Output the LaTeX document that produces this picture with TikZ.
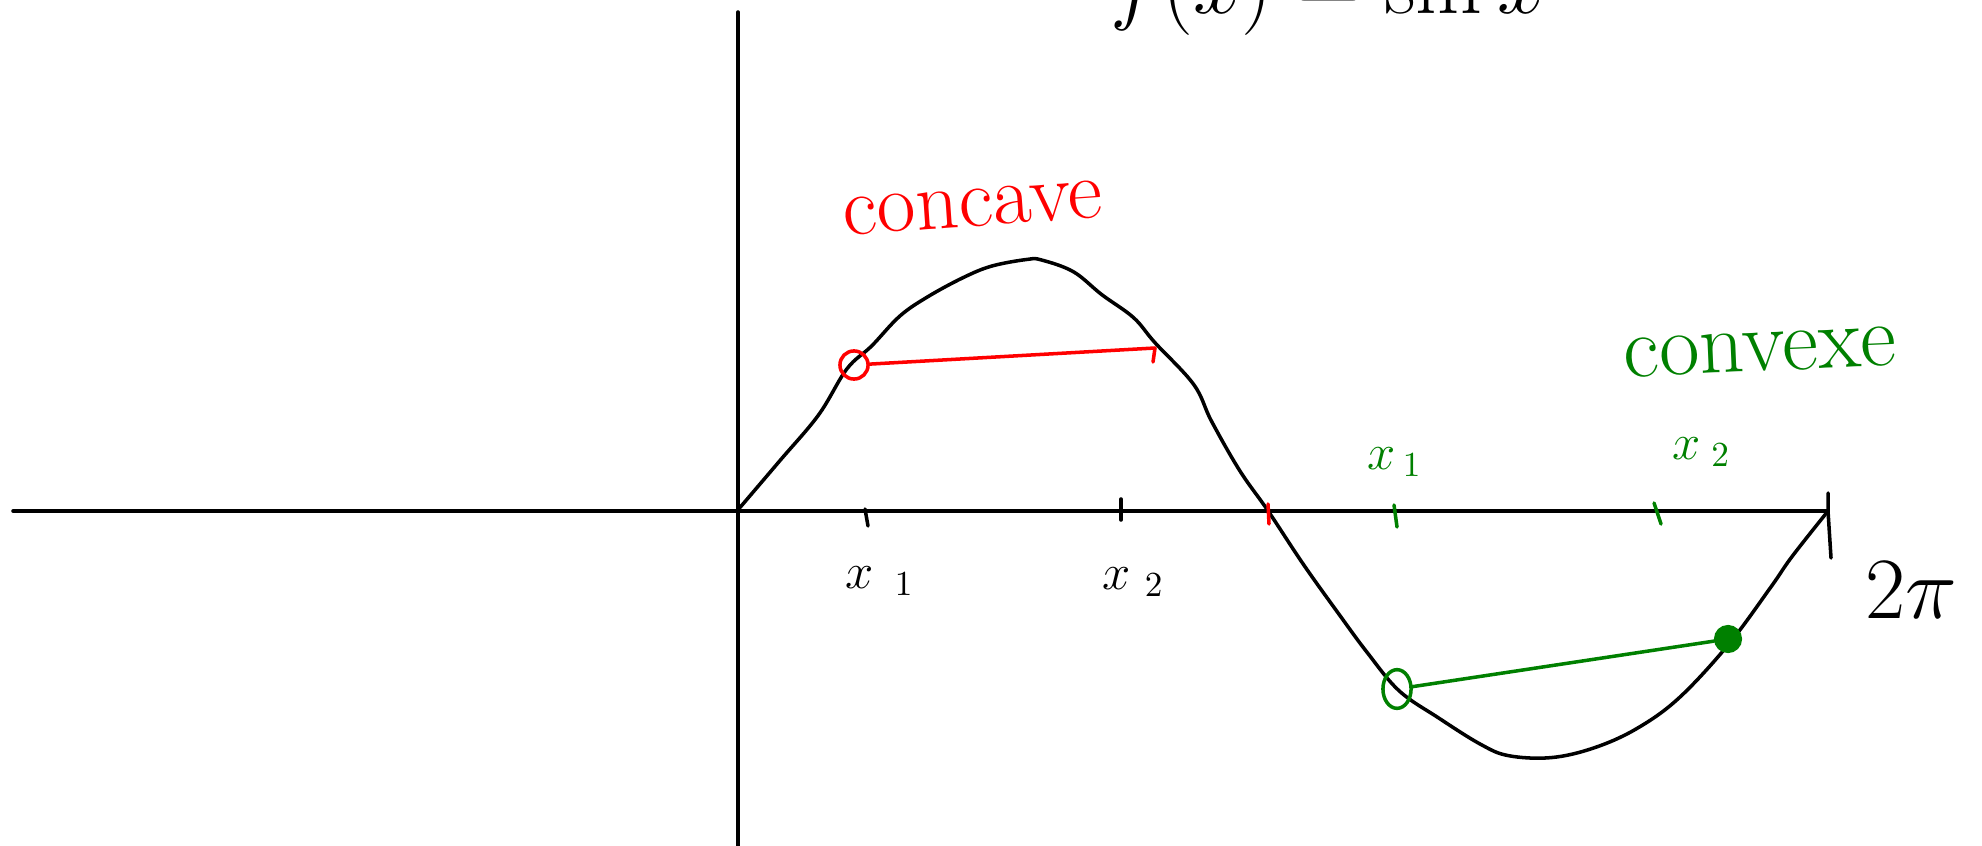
\documentclass[tikz,border=0pt]{standalone}
\usetikzlibrary{shapes.geometric}
\begin{document}
\begin{tikzpicture}[x=0.01cm,y=-0.01cm,
  ink/.style={line width=1pt,line cap=round,line join=round},
  redink/.style={ink,draw=red},
  greenink/.style={ink,draw=green!50!black},
  lbl/.style={inner sep=0pt,font=\fontsize{14}{17}\selectfont},
  bigl/.style={inner sep=0pt,font=\fontsize{24}{29}\selectfont},
  opendot/.style={circle,inner sep=0pt,minimum size=8pt,line width=1pt},
  fulldot/.style={circle,inner sep=0pt,minimum size=7pt,line width=1pt}]
\useasboundingbox (0,0) rectangle (1982,846);
% axes
\coordinate (ytop) at (738,12);
\coordinate (ybot) at (738,846);
\coordinate (xleft) at (13,511);
\coordinate (xright) at (1828,511);
\coordinate (tpitop) at (1828,493);
\coordinate (tpibot) at (1831,558);
\draw[ink] (ytop) -- (ybot);
\draw[ink] (xleft) -- (xright);
\draw[ink] (tpitop) -- (xright) -- (tpibot);
% curve
\draw[ink] plot[smooth,tension=0.6] coordinates {
 (737,511) (779.6,461) (818.5,415) (846.8,369) (871.6,346) (899.9,316)
 (928.2,296.5) (963.6,277.4) (992,266) (1027.3,259.4) (1041.5,260)
 (1073.3,271.7) (1101.7,294.6) (1133.5,317.6) (1154.7,342.4)
 (1193.7,384.5) (1211.4,421) (1239.7,470.6) (1268,510.8) (1303.4,564.4)
 (1338.8,614) (1367.1,652.4) (1399,690.7) (1437.9,717.5) (1480.4,744.2)
 (1508.7,755.7) (1551.2,757.6) (1593.6,748) (1636,729) (1678.6,698.3)
 (1728.2,644.8) (1770.6,587.4) (1791.9,556.7) (1828,511)};
% ticks
\coordinate (t1a) at (865,509); \coordinate (t1b) at (868,526);
\coordinate (t2a) at (1121,499); \coordinate (t2b) at (1121,520);
\draw[ink] (t1a) -- (t1b);
\draw[ink] (t2a) -- (t2b);
\coordinate (tpa) at (1268,504); \coordinate (tpb) at (1269,524);
\draw[redink] (tpa) -- (tpb);
\coordinate (g1a) at (1394,505); \coordinate (g1b) at (1397,527);
\coordinate (g2a) at (1654,503); \coordinate (g2b) at (1661,524);
\draw[greenink] (g1a) -- (g1b);
\draw[greenink] (g2a) -- (g2b);
% chords
\node[opendot,draw=red] (rd1) at (854,365) {};
\coordinate (r2) at (1155,348);
\coordinate (r2h) at (1153,362);
\draw[redink] (rd1) -- (r2) -- (r2h);
\node[ellipse,inner sep=0pt,line width=1pt,minimum width=8pt,minimum height=11pt,draw=green!50!black] (gd1) at (1397,689) {};
\node[fulldot,fill=green!50!black,draw=green!50!black] (gd2) at (1728,639) {};
\draw[greenink] (gd1) -- (gd2);
% labels
\node[bigl,anchor=base west] (title) at (1110,14) {$f(x) = \sin x$};
\node[bigl,text=red,rotate=4] (concave) at (973,208) {concave};
\node[bigl,text=green!50!black,font=\fontsize{25}{30}\selectfont,rotate=2.5] (convexe) at (1760,352) {convexe};
\node[lbl,anchor=base west] (bx1) at (845,588) {$x_{\kern6pt 1}$};
\node[lbl,anchor=base west] (bx2) at (1102,589) {$x_{\kern4pt 2}$};
\node[lbl,anchor=base west,text=green!50!black] (gx1) at (1367,469) {$x_{\kern2pt 1}$};
\node[lbl,anchor=base west,text=green!50!black] (gx2) at (1672,459) {$x_{\kern3pt 2}$};
\node[inner sep=0pt,font=\fontsize{24}{29}\selectfont] (twopi) at (1911,590) {$2\pi$};
\end{tikzpicture}
\end{document}
